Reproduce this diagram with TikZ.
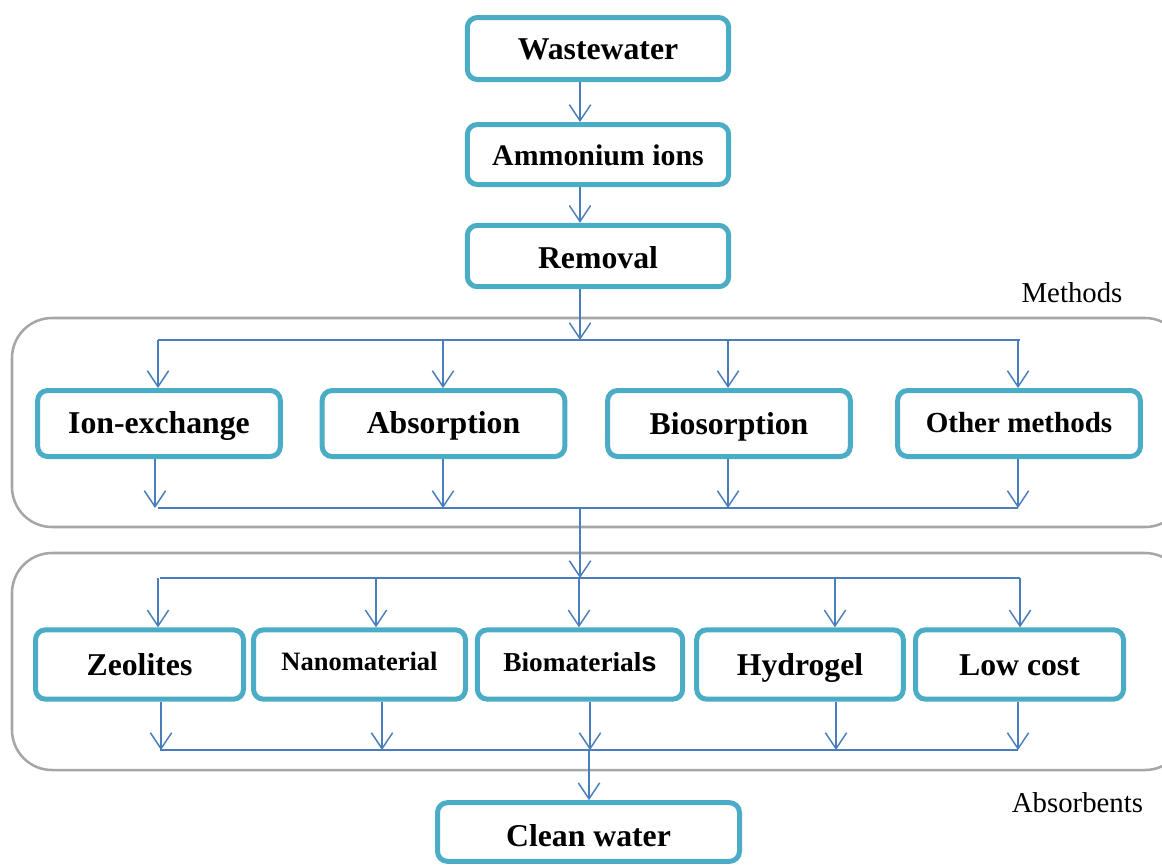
\documentclass[tikz,border=0pt]{standalone}
\usepackage{fontspec}
\setmainfont{Liberation Serif}
\newfontfamily\arialfont{Liberation Sans}
\usetikzlibrary{arrows.meta}
\definecolor{boxc}{HTML}{4BACC6}
\definecolor{arrc}{HTML}{4A7EBB}
\definecolor{grpc}{HTML}{A6A6A6}
\newcommand{\rb}[2]{\raisebox{#1}{#2}}
\tikzset{
  box/.style={draw=boxc, line width=3.75pt, rounded corners=7.5pt, fill=white,
    align=center, inner sep=0pt, text=black, text height=15pt, text depth=0pt},
  big/.style={font=\bfseries\fontsize{23.8}{26}\selectfont},
  conn/.style={draw=arrc, line width=1.1pt},
  arr/.style={conn, -{Straight Barb[length=12pt,width=16pt,line width=1.1pt]}},
  grp/.style={draw=grpc, line width=1.9pt, rounded corners=30pt},
  lbl/.style={anchor=base, inner sep=0pt, font=\fontsize{21.6}{24}\selectfont},
}
\begin{document}
\begin{tikzpicture}[x=0.75pt, y=-0.75pt]
\useasboundingbox (0,0) rectangle (1162,865);
% group frames
\draw[grp] (12,318) rectangle (1185,527);
\draw[grp] (12,553) rectangle (1185,770);
\node[lbl] (lm) at (1072,302) {Methods};
\node[lbl] (la) at (1077.5,812) {Absorbents};
% top chain
\node[box, big, minimum width=196pt, minimum height=46.5pt] (ww) at (598,48.5) {\rb{-1.1pt}{Wastewater}};
\node[box, font=\bfseries\fontsize{22.4}{25}\selectfont, minimum width=196pt, minimum height=45pt] (am) at (598,154.5) {\rb{-1pt}{Ammonium ions}};
\node[box, big, minimum width=196pt, minimum height=46pt] (rem) at (598,256) {\rb{-1.5pt}{Removal}};
% methods
\node[box, big, minimum width=182pt, minimum height=49.5pt] (ion) at (159,423.5) {Ion-exchange};
\node[box, big, minimum width=182pt, minimum height=49.5pt] (abs) at (443.5,423.5) {Absorption};
\node[box, big, minimum width=182pt, minimum height=49.5pt] (bio) at (729,423.5) {\rb{-0.8pt}{Biosorption}};
\node[box, font=\bfseries\fontsize{21.8}{24}\selectfont, minimum width=182pt, minimum height=49.5pt] (oth) at (1019,423.5) {\rb{1.1pt}{Other methods}};
% absorbents
\node[box, big, minimum width=156pt, minimum height=52pt] (zeo) at (139.5,664.5) {\rb{-1.1pt}{Zeolites}};
\node[box, font=\bfseries\fontsize{19.9}{22}\selectfont, minimum width=159pt, minimum height=52pt] (nano) at (359.5,664.5) {\rb{3.2pt}{Nanomaterial}};
\node[box, font=\bfseries\fontsize{20.5}{22}\selectfont, minimum width=154pt, minimum height=52pt] (biom) at (580,664.5) {\rb{2.3pt}{Biomaterial{\arialfont s}}};
\node[box, big, minimum width=155pt, minimum height=52pt] (hyd) at (800,664.5) {\rb{-1.1pt}{Hydrogel}};
\node[box, big, minimum width=156pt, minimum height=52pt] (low) at (1019.5,664.5) {\rb{-1.1pt}{Low cost}};
\node[box, big, minimum width=226.5pt, minimum height=44pt] (clean) at (588.5,832) {\rb{-3pt}{Clean water}};
% coordinates
\coordinate (xa) at (580,0);
\coordinate (b1) at (580,340);
\coordinate (b1L) at (158,340);
\coordinate (b1R) at (1020,340);
\coordinate (m1) at (158,340);
\coordinate (m2) at (443,340);
\coordinate (m3) at (728,340);
\coordinate (m4) at (1018,340);
\coordinate (c1) at (155,508);
\coordinate (c2) at (443,508);
\coordinate (c3) at (728,508);
\coordinate (c4) at (1018,508);
\coordinate (b2L) at (158,508);
\coordinate (b2R) at (1018,508);
\coordinate (j2) at (580,508);
\coordinate (b3) at (580,578);
\coordinate (b3L) at (160,578);
\coordinate (b3R) at (1020,578);
\coordinate (a1) at (158,578);
\coordinate (a2) at (376,578);
\coordinate (a3) at (579,578);
\coordinate (a4) at (835,578);
\coordinate (a5) at (1020,578);
\coordinate (e1) at (161,750);
\coordinate (e2) at (382,750);
\coordinate (e3) at (590,750);
\coordinate (e4) at (836,750);
\coordinate (e5) at (1018,750);
\coordinate (b4L) at (160,750);
\coordinate (b4R) at (1018,750);
\coordinate (j4) at (589,750);
% connectors
\draw[arr] (ww.south -| xa) -- (am.north -| xa);
\draw[arr] (am.south -| xa) -- (rem.north -| xa);
\draw[arr] (rem.south -| xa) -- (b1);
\draw[conn] (b1L) -- (b1R);
\draw[arr] (m1) -- (ion.north -| m1);
\draw[arr] (m2) -- (abs.north -| m2);
\draw[arr] (m3) -- (bio.north -| m3);
\draw[arr] (m4) -- (oth.north -| m4);
\draw[arr] (ion.south -| c1) -- (c1);
\draw[arr] (abs.south -| c2) -- (c2);
\draw[arr] (bio.south -| c3) -- (c3);
\draw[arr] (oth.south -| c4) -- (c4);
\draw[conn] (b2L) -- (b2R);
\draw[arr] (j2) -- (b3);
\draw[conn] (b3L) -- (b3R);
\draw[arr] (a1) -- (zeo.north -| a1);
\draw[arr] (a2) -- (nano.north -| a2);
\draw[arr] (a3) -- (biom.north -| a3);
\draw[arr] (a4) -- (hyd.north -| a4);
\draw[arr] (a5) -- (low.north -| a5);
\draw[arr] (zeo.south -| e1) -- (e1);
\draw[arr] (nano.south -| e2) -- (e2);
\draw[arr] (biom.south -| e3) -- (e3);
\draw[arr] (hyd.south -| e4) -- (e4);
\draw[arr] (low.south -| e5) -- (e5);
\draw[conn] (b4L) -- (b4R);
\draw[arr] (j4) -- (clean.north -| j4);
\end{tikzpicture}
\end{document}
